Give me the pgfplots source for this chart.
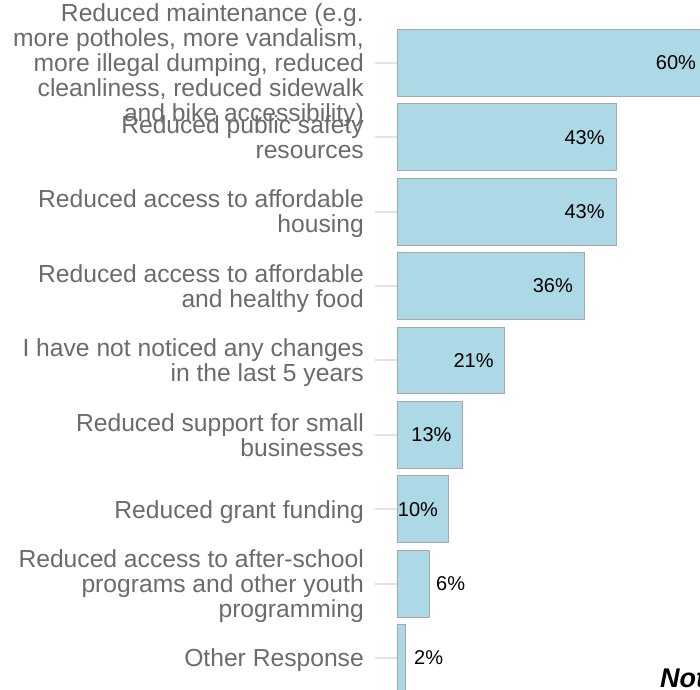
\documentclass[border=0pt]{standalone}
\usepackage{fontspec}
\setmainfont{Liberation Sans}
\usepackage{pgfplots}
\pgfplotsset{compat=1.18}
\definecolor{barblue}{HTML}{ADD8E6}
\definecolor{bardraw}{HTML}{A8A8A8}
\definecolor{labgray}{HTML}{6B6B6B}
\definecolor{tickgray}{HTML}{E3E3E3}
\newcommand\st{\rule[-5pt]{0pt}{22.5pt}}
\begin{document}
\begin{tikzpicture}
\useasboundingbox (0,0) rectangle (700pt,689pt);
\clip (0,0) rectangle (700pt,689pt);
\begin{axis}[
  at={(375pt,-6.2pt)}, anchor=south west,
  scale only axis, width=379.7pt, height=669.6pt,
  xmin=-4.3, xmax=70, ymin=-0.5, ymax=8.5,
  axis line style={draw=none},
  xtick=\empty,
  ytick={0,1,2,3,4,5,6,7,8},
  ytick pos=left,
  tick align=inside,
  major tick length=22pt,
  ytick style={draw=tickgray, line width=2pt},
  yticklabels={
    {\st Other Response\st},
    {\st Reduced access to after-school\\programs and other youth\\programming\st},
    {\st Reduced grant funding\st},
    {\st Reduced support for small\\businesses\st},
    {\st I have not noticed any changes\\in the last 5 years\st},
    {\st Reduced access to affordable\\and healthy food\st},
    {\st Reduced access to affordable\\housing\st},
    {\st Reduced public safety\\resources\st},
    {\st Reduced maintenance (e.g.\\more potholes, more vandalism,\\more illegal dumping, reduced\\cleanliness, reduced sidewalk\\and bike accessibility)\st}
  },
  yticklabel style={font=\fontsize{24.65}{25}\selectfont, text=labgray, align=right, anchor=east, inner sep=0pt, xshift=-11pt, yshift=-2.5pt},
]
\addplot[xbar, bar width=0.9, fill=barblue, draw=bardraw, line width=0.8pt] coordinates {
  (1.7,0) (6.4,1) (10.1,2) (12.8,3) (21,4) (36.6,5) (43,6) (43,7) (60,8)
};
\addplot[draw=none, mark=none, nodes near coords, point meta=explicit symbolic,
  nodes near coords style={anchor=center, font=\fontsize{20}{24}\selectfont, text=black}] coordinates {
  (6.2,0) [2\%]
  (10.5,1) [6\%]
  (4.1,2) [10\%]
  (6.75,3) [13\%]
  (15.0,4) [21\%]
  (30.5,5) [36\%]
  (36.7,6) [43\%]
  (36.7,7) [43\%]
  (54.6,8) [60\%]
};
\end{axis}
\node[anchor=base west, inner sep=0pt, font=\fontsize{27}{30}\selectfont\bfseries\itshape] at (660pt,2pt) {Note:};
\end{tikzpicture}
\end{document}
